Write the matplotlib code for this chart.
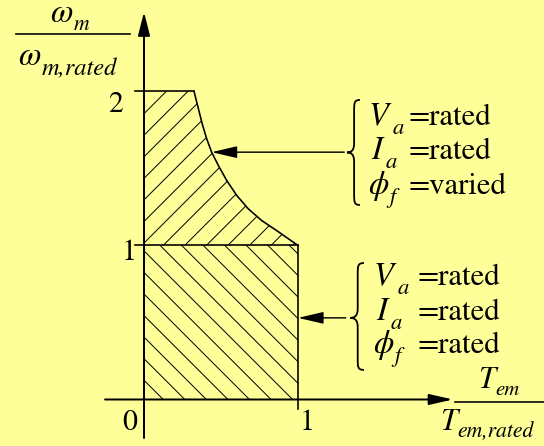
import numpy as np
import matplotlib
matplotlib.use('Agg')
import matplotlib.pyplot as plt
from matplotlib.patches import Polygon, Rectangle, PathPatch
from matplotlib.path import Path
from matplotlib.transforms import IdentityTransform

plt.rcParams['font.family'] = 'STIXGeneral'
plt.rcParams['mathtext.fontset'] = 'stix'

BG = '#ffff99'

# field-weakening boundary (normalised torque vs normalised speed)
torque_fw = [0.325, 0.353, 0.381, 0.407, 0.439, 0.483, 0.537, 0.602, 0.677, 0.764, 0.861, 1.0]
speed_fw = [2.0, 1.888, 1.779, 1.693, 1.606, 1.519, 1.422, 1.325, 1.238, 1.162, 1.097, 1.0]

rated_torque = 1.0
rated_speed = 1.0
max_speed = 2.0

x_ticks = ['0', '1']
y_ticks = ['1', '2']

symbols = [r'$V$', r'$I$', r'$\phi$']
subs = ['a', 'a', 'f']
upper_values = ['=rated', '=rated', '=varied']
lower_values = ['=rated', '=rated', '=rated']

fig = plt.figure(figsize=(544 / 130, 446 / 130), dpi=130, facecolor=BG)
ax = fig.add_axes([0, 0, 1, 1])
ax.set_facecolor(BG)
ax.set_xlim(-0.935, 2.597)
ax.set_ylim(-0.302, 2.594)
ax.axis('off')
renderer = fig.canvas.get_renderer()

# hatched operating regions (hatching drawn as clipped lines)
upper = Polygon([(0, rated_speed), (0, max_speed)] + list(zip(torque_fw, speed_fw)),
                closed=True, facecolor='none', lw=0)
lower = Rectangle((0, 0), rated_torque, rated_speed, facecolor='none', lw=0)
ax.add_patch(upper)
ax.add_patch(lower)
step = 0.14
for c in np.arange(1.016 - 8 * step, 2.2, step):
    ln, = ax.plot([-1, 3], [c - 1, c + 3], color='k', lw=0.55)
    ln.set_clip_path(upper)
for c in np.arange(0.125, 2.2, step):
    ln, = ax.plot([-1, 3], [c + 1, c - 3], color='k', lw=0.55)
    ln.set_clip_path(lower)

# region outlines
ax.plot(torque_fw, speed_fw, color='k', lw=0.9)
ax.plot([-0.06, torque_fw[0]], [max_speed, max_speed], color='k', lw=0.9)
ax.plot([-0.06, rated_torque], [rated_speed, rated_speed], color='k', lw=0.9)
ax.plot([rated_torque, rated_torque], [-0.06, rated_speed], color='k', lw=0.9)


def arrow(x0, y0, x1, y1, lw, hl, hw):
    ax.annotate('', xy=(x1, y1), xytext=(x0, y0),
                arrowprops=dict(arrowstyle='-|>,head_length=%g,head_width=%g' % (hl, hw),
                                lw=lw, color='k', shrinkA=0, shrinkB=0,
                                mutation_scale=1))


# axes
arrow(0, -0.25, 0, 2.516, 1.1, 11, 2.8)
arrow(-0.253, 0, 2.006, 0, 1.1, 11, 2.5)


def brace(x, top, mid, bot, w):
    xv = x + 0.55 * w
    verts = [(x + w, top),
             (xv, top), (xv, top - 0.02), (xv, top - 0.07),
             (xv, mid + 0.06),
             (xv, mid + 0.01), (x + 0.3 * w, mid), (x, mid),
             (x + 0.3 * w, mid), (xv, mid - 0.01), (xv, mid - 0.06),
             (xv, bot + 0.07),
             (xv, bot + 0.02), (xv, bot), (x + w, bot)]
    codes = [Path.MOVETO,
             Path.CURVE4, Path.CURVE4, Path.CURVE4,
             Path.LINETO,
             Path.CURVE4, Path.CURVE4, Path.CURVE4,
             Path.CURVE4, Path.CURVE4, Path.CURVE4,
             Path.LINETO,
             Path.CURVE4, Path.CURVE4, Path.CURVE4]
    ax.add_patch(PathPatch(Path(verts, codes), facecolor='none',
                           edgecolor='k', lw=1.0))


def symbol(x, y, main, sub, size, sub_size, drop, ha='left'):
    """Italic symbol with a subscript; baseline at data point (x, y)."""
    px, py = ax.transData.transform((x, y))
    t1 = ax.text(px, py, main, fontsize=size, transform=IdentityTransform(),
                 ha='left', va='baseline', fontstyle='italic')
    t2 = ax.text(px, py - drop, sub, fontsize=sub_size, transform=IdentityTransform(),
                 ha='left', va='baseline', fontstyle='italic')
    w1 = t1.get_window_extent(renderer).width
    w2 = t2.get_window_extent(renderer).width
    if ha == 'center':
        px -= (w1 + w2) / 2
        t1.set_x(px)
    t2.set_x(px + w1)


# condition blocks
brace(1.318, 1.945, 1.604, 1.263, 0.084)
brace(1.338, 0.886, 0.53, 0.192, 0.09)
arrow(1.30, speed_fw[4], torque_fw[4], speed_fw[4], 0.8, 12, 2.8)
arrow(1.31, 0.53, rated_torque, 0.53, 0.8, 12, 2.8)

for i, yb in enumerate([1.782, 1.561, 1.334]):
    symbol(1.455 + 0.02 * (i == 1), yb, symbols[i], subs[i], 18, 12.5, 9)
    ax.text(1.719, yb, upper_values[i], fontsize=17, ha='left', va='baseline')
for i, yb in enumerate([0.744, 0.516, 0.302]):
    symbol(1.487 + 0.02 * (i == 1), yb, symbols[i], subs[i], 18, 12.5, 9)
    ax.text(1.773, yb, lower_values[i], fontsize=17, ha='left', va='baseline')

# tick labels
ax.text(-0.182, 2.0, y_ticks[1], fontsize=16.5, ha='center', va='top')
ax.text(-0.098, 1.04, y_ticks[0], fontsize=16.5, ha='center', va='top')
ax.text(-0.091, -0.064, x_ticks[0], fontsize=16.5, ha='center', va='top')
ax.text(1.058, -0.064, x_ticks[1], fontsize=16.5, ha='center', va='top')

# axis quantity labels as fractions
symbol(-0.481, 2.451, r'$\omega$', 'm', 18, 12, 8, ha='center')
ax.plot([-0.831, -0.091], [2.370, 2.370], color='k', lw=0.9)
symbol(-0.818, 2.172, r'$\omega$', 'm,rated', 18, 13.5, 10)

symbol(2.302, 0.075, 'T', 'em', 17, 11.5, 7, ha='center')
ax.plot([2.019, 2.62], [-0.016, -0.016], color='k', lw=0.9)
symbol(1.92, -0.198, 'T', 'em,rated', 17, 12, 8)

fig.savefig('out.png', dpi=130, facecolor=BG)
